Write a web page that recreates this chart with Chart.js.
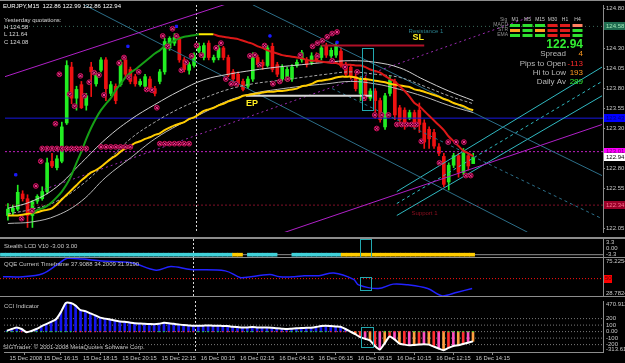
<!DOCTYPE html>
<html>
<head>
<meta charset="utf-8">
<title>EURJPY,M15</title>
<script src="https://cdn.jsdelivr.net/npm/chart.js@4.4.1/dist/chart.umd.min.js"></script>
<style>
  html, body { margin: 0; padding: 0; background: #000; }
  body { width: 625px; height: 363px; position: relative; overflow: hidden; }
  .pane { position: absolute; left: 0; width: 625px; }
  .sep { position: absolute; left: 0; width: 625px; background: #8c8c8c; }
</style>
</head>
<body>
<div class="pane" style="top:0;height:237px"><canvas id="main"></canvas></div>
<div class="sep" style="top:0;height:1px"></div>
<div class="sep" style="top:237px;height:2px"></div>
<div class="pane" style="top:239px;height:18px"><canvas id="lcd"></canvas></div>
<div class="sep" style="top:257px;height:1px"></div>
<div class="pane" style="top:258px;height:38px"><canvas id="qqe"></canvas></div>
<div class="sep" style="top:296px;height:1px"></div>
<div class="pane" style="top:297px;height:66px"><canvas id="cci"></canvas></div>
<script>
// ---- data (EURJPY M15, 15 Dec 14:30 .. 16 Dec 14:15) ----
const timeLabels = ['15 Dec 2008', '15 Dec 16:15', '15 Dec 18:15', '15 Dec 20:15', '15 Dec 22:15', '16 Dec 00:15', '16 Dec 02:15',
  '16 Dec 04:15', '16 Dec 06:15', '16 Dec 08:15', '16 Dec 10:15', '16 Dec 12:15', '16 Dec 14:15'];
const timeBars = [0, 7, 15, 23, 31, 39, 47, 55, 63, 71, 79, 87, 95];

const open = [122.21,122.26,122.29,122.48,122.42,122.21,122.39,122.42,122.51,122.89,
  122.81,122.89,123.37,124.07,123.68,123.85,123.59,124.07,123.86,124.03,
  124.16,123.74,123.83,123.85,124.16,124.04,123.95,123.85,123.83,123.92,
  123.80,123.89,124.01,124.31,124.37,124.43,124.16,124.03,124.09,124.27,
  124.19,124.37,124.16,124.19,124.31,124.19,124.01,123.98,123.89,123.83,
  123.92,124.19,124.13,124.09,124.33,124.10,123.92,123.92,123.92,124.09,
  124.16,124.16,124.13,124.22,124.19,124.33,124.21,124.22,124.27,124.09,
  124.07,123.95,123.74,123.92,123.68,123.77,123.65,123.32,123.74,123.89,
  123.56,123.53,123.43,123.50,123.53,123.37,123.29,123.25,123.07,122.95,
  122.63,122.84,122.96,122.75,122.96,122.86];
const high = [122.36,122.34,122.59,122.52,122.47,122.40,122.47,122.57,122.93,122.99,
  122.96,123.38,124.15,124.13,123.83,123.89,123.74,124.13,124.01,124.19,
  124.19,123.89,123.86,124.16,124.19,124.07,123.98,123.92,123.98,123.95,
  123.83,124.04,124.43,124.45,124.49,124.45,124.19,124.13,124.25,124.37,
  124.37,124.40,124.22,124.34,124.33,124.22,124.04,124.01,123.92,123.95,
  124.25,124.22,124.16,124.34,124.37,124.13,124.10,124.07,124.10,124.16,
  124.28,124.19,124.25,124.25,124.34,124.37,124.31,124.37,124.31,124.13,
  124.10,123.98,123.95,123.95,123.80,123.80,123.68,123.74,123.95,123.92,
  123.59,123.56,123.53,123.53,123.62,123.41,123.32,123.29,123.11,122.99,
  122.87,122.99,122.99,123.05,122.99,122.99];
const low = [122.15,122.21,122.27,122.39,122.06,122.06,122.36,122.40,122.48,122.81,
  122.78,122.87,123.35,123.61,123.53,123.55,123.53,123.70,123.83,124.01,
  123.65,123.71,123.61,123.83,123.95,123.86,123.83,123.83,123.80,123.77,
  123.71,123.86,123.98,124.28,124.34,124.13,124.01,123.98,124.07,124.25,
  124.16,124.16,124.13,124.16,124.16,123.95,123.89,123.83,123.77,123.80,
  123.89,124.07,124.04,124.07,124.01,123.95,123.89,123.89,123.89,124.07,
  124.13,124.07,124.10,124.13,124.16,124.19,124.19,124.19,124.07,123.95,
  123.92,123.77,123.65,123.65,123.65,123.43,123.38,123.29,123.71,123.41,
  123.37,123.29,123.41,123.29,123.25,123.05,123.05,123.05,122.96,122.57,
  122.53,122.81,122.69,122.72,122.78,122.86];
const close = [122.29,122.30,122.50,122.42,122.21,122.38,122.45,122.51,122.87,122.83,
  122.92,123.32,124.09,123.68,123.79,123.56,123.71,124.01,123.97,124.16,
  123.80,123.85,123.65,124.13,123.98,123.89,123.86,123.89,123.95,123.79,
  123.74,124.01,124.39,124.43,124.44,124.16,124.04,124.10,124.22,124.33,
  124.34,124.19,124.19,124.31,124.19,123.97,123.92,123.86,123.79,123.92,
  124.21,124.10,124.09,124.31,124.04,123.98,124.07,124.04,124.07,124.13,
  124.25,124.10,124.21,124.15,124.31,124.22,124.28,124.33,124.09,123.98,
  123.95,123.80,123.92,123.68,123.77,123.65,123.41,123.71,123.91,123.47,
  123.41,123.35,123.50,123.32,123.35,123.13,123.17,123.08,122.99,122.60,
  122.84,122.96,122.75,122.99,122.83,122.94];

// slope-coloured moving average (green up, yellow flat, red down)
const trendMA = [null,null,null,null,null,122.23,122.28,122.30,122.33,122.38,
  122.44,122.51,122.60,122.72,122.87,123.01,123.17,123.31,123.43,123.53,
  123.61,123.68,123.78,123.86,123.94,124.00,124.04,124.09,124.14,124.19,
  124.24,124.28,124.33,124.37,124.40,124.43,124.45,124.46,124.47,124.48,
  124.48,124.48,124.48,124.46,124.45,124.44,124.43,124.42,124.40,124.38,
  124.36,124.33,124.31,124.28,124.26,124.24,124.22,124.21,124.20,124.19,
  124.18,124.16,124.15,124.15,124.14,124.13,124.12,124.12,124.10,124.10,
  124.10,124.09,124.09,124.07,124.04,124.02,124.00,123.96,123.92,123.89,
  123.83,123.77,123.70,123.62,123.58,123.52,123.46,123.40,123.34,123.28,
  123.20,123.14,123.08,123.02,122.99,122.95];
const maYellow = [122.21,122.21,122.21,122.22,122.23,122.24,122.25,122.27,122.28,122.30,
  122.35,122.41,122.47,122.53,122.59,122.65,122.70,122.75,122.78,122.82,
  122.87,122.92,122.96,123.01,123.05,123.08,123.12,123.14,123.17,123.19,
  123.22,123.24,123.28,123.31,123.34,123.36,123.38,123.42,123.44,123.48,
  123.52,123.54,123.56,123.59,123.61,123.64,123.66,123.68,123.71,123.72,
  123.73,123.74,123.75,123.76,123.76,123.77,123.77,123.78,123.79,123.80,
  123.83,123.84,123.86,123.89,123.90,123.91,123.92,123.94,123.95,123.95,
  123.95,123.94,123.92,123.92,123.91,123.90,123.89,123.88,123.86,123.85,
  123.84,123.83,123.82,123.79,123.78,123.76,123.74,123.72,123.70,123.67,
  123.65,123.62,123.60,123.58,123.55,123.53];

const bandBars = [0,5,10,15,20,25,30,35,40,45,50,55,60,65,70,75,80,85,90,95];
const bandUp  = [122.30,122.39,122.57,122.87,123.17,123.41,123.60,123.77,123.91,123.98,124.03,124.07,124.10,124.13,124.15,124.13,124.06,123.91,123.77,123.65];
const bandMid = [122.23,122.29,122.39,122.59,122.87,123.17,123.38,123.55,123.68,123.79,123.86,123.90,123.94,123.98,124.01,123.98,123.94,123.83,123.71,123.61];
const bandLow = [122.11,122.13,122.21,122.39,122.69,122.93,123.17,123.35,123.50,123.65,123.74,123.79,123.83,123.86,123.89,123.86,123.79,123.70,123.59,123.50];

// pivot / signal markers
const markBars = [2.8,4.9,5.7,6.7,9.7,10.5,12.6,13.6,14.8,15.6,16.6,17.6,18.6,19.6,22.7,23.7,24.7,26.7,28.3,29.4,
  30.4,31.6,32.6,33.6,34.4,35.4,36.4,37.5,38.5,39.5,42.5,43.5,44.5,45.6,46.6,49.4,50.4,51.4,52.4,54.1,
  55.5,57.1,59.7,62.2,63.2,64.2,65.2,66.2,67.2,63.2,66.2,68.8,71.3,72.7,74.9,76.3,77.7,75.3,79.4,80.4,
  81.4,82.4,83.4,84.4,88.1,89.9,91.5,93.1,93.5,94.5,
  7,8,9,10,11,12,13,14,15,16,19,20,21,22,23,24,25,31,32,33,34,35,36,37];
const markPrices = [122.17,122.27,122.58,122.89,123.36,123.98,123.73,123.58,123.96,123.71,123.88,124.00,123.97,123.72,124.12,124.19,123.94,124.01,123.79,123.78,
  123.56,124.46,124.33,124.55,124.46,124.03,124.13,124.21,124.34,124.22,124.31,124.37,123.92,123.86,123.86,124.21,124.22,124.10,124.34,123.86,
  123.89,123.92,124.22,124.33,124.37,124.40,124.45,124.49,124.51,124.21,124.15,124.07,124.01,123.68,123.47,123.47,123.47,123.30,123.35,123.35,
  123.35,123.35,123.35,123.14,122.87,123.13,123.13,123.13,122.71,122.71,
  123.05,123.05,123.05,123.05,123.05,123.05,123.05,123.05,123.05,123.05,123.07,123.07,123.07,123.07,123.07,123.07,123.07,123.11,123.11,123.11,123.11,123.11,123.11,123.11];
const fractalBars = [1.6, 24.5, 34.4, 53.5, 67.2];
const fractalPrices = [122.72, 124.33, 124.58, 124.46, 124.38];

// hand-drawn objects: [bar, price] end points
const channelUpper = [[-0.6, 123.95], [50, 124.97]];
const channelLower = [[56.1, 121.99], [121.3, 123.35]];
const dashedTrend = [[7.5, 122.54], [106.7, 124.70]];
const fallLine1 = [[15.6, 124.85], [106.1, 122.00]];
const fallLine2 = [[50, 124.85], [121.3, 122.71]];
const fallLine3 = [[66.2, 123.80], [121.3, 122.17]];
const riseUpper = [[79.4, 122.51], [121.3, 124.07]];
const riseMid = [[79.4, 122.36], [121.3, 123.89]];
const riseLower = [[79.4, 122.21], [121.3, 123.71]];
const slLine = [[64, 124.34], [85, 124.34]];
const epLine = [[48.6, 123.71], [74.3, 123.71]];
const yHigh = 124.58, pivotLine = 123.43, openLine = 123.01, supportLine = 122.34;

const noteTexts = ['Resistance 1', 'SL', 'EP', 'Support 1'];
const noteBars = [81.8, 82.6, 48.6, 82.4];
const notePrices = [124.52, 124.44, 123.61, 122.24];

const priceTicks = [124.80, 124.30, 124.05, 123.80, 123.55, 123.30, 122.80, 122.55, 122.05];
const tagValues = [124.58, 123.43, 123.01, 122.94, 122.34];
const cursorBar = 38.4;
const boxBars = [72.2, 74.6];

// sub windows
const lcdState = [1,1,1,1,1,1,1,1,1,1, 1,1,1,1,1,1,1,1,1,1, 1,1,1,1,1,1,1,1,1,1, 1,1,1,1,1,1,1,1,1,1,
  1,1,1,1,1,1,1,-1,-1,0, 1,1,1,1,1,1,0,0,0,1, 1,1,1,1,1,1,1,1,1,-1,
  -1,-1,-1,-1,-1,-1,-1,-1,-1,-1, -1,-1,-1,-1,-1,-1,-1,-1,-1,-1, -1,-1,-1,-1,-1,-1];
const qqeBars = [0,4,8,11,13,16,20,26,31,34,38,45,48,49,54,56,59,61,64,67,71,72,76,79,82,86,89,92,95];
const qqeVals = [52.3,52.3,55.9,67.0,74.8,73.9,71.6,69.4,60.4,64.9,61.3,59.5,51.4,51.4,55.0,52.3,52.3,53.6,53.6,56.8,49.1,42.4,37.9,43.3,42.4,37.9,28.9,33.4,37.91];
const qqeLevel = 50;
const cci = [15,40,65,40,-10,10,40,80,115,150, 190,300,440,440,400,330,315,280,250,215,
  200,185,170,155,150,140,130,125,120,118, 115,120,135,130,120,110,100,95,90,90,
  92,95,90,90,88,85,75,70,65,65, 70,65,62,65,60,50,45,40,45,50,
  55,58,60,70,85,90,85,80,75,40, 0,-40,-85,-110,-135,-220,-275,-180,-75,-120,
  -185,-200,-210,-205,-200,-195,-200,-230,-260,-285, -250,-220,-210,-190,-170,-150];
const cciLevels = [200, 100, 0, -100, -200];

// ---- drawing ----
Chart.defaults.font.family = '"Liberation Sans", Arial, sans-serif';
Chart.defaults.font.size = 6;
Chart.defaults.color = '#c8c8c8';
Chart.defaults.animation = false;
Chart.defaults.maintainAspectRatio = false;
Chart.defaults.plugins.legend.display = false;
Chart.defaults.plugins.tooltip.enabled = false;
Chart.defaults.elements.point.radius = 0;
Chart.defaults.elements.line.borderWidth = 1;

const FONT = '"Liberation Sans", Arial, sans-serif';
const xMin = -0.6, xMax = 121.5;
const bars = close.map((_, i) => i);
const pts = (xs, ys) => xs.map((x, k) => ({ x, y: ys[k] }));
const seg = s => s.map(p => ({ x: p[0], y: p[1] }));
const hline = v => [{ x: xMin, y: v }, { x: xMax, y: v }];

function xAxis(show) {
  return {
    type: 'linear', min: xMin, max: xMax, offset: false, display: show,
    grid: { drawOnChartArea: false, color: '#8c8c8c', tickLength: 3 },
    border: { color: '#8c8c8c' },
    // first label is pinned to the left edge like the terminal does
    afterBuildTicks: s => { s.ticks = timeBars.map(v => ({ value: Math.max(v, xMin) })); },
    ticks: { autoSkip: false, maxRotation: 0, align: 'start', padding: 0, labelOffset: 2.5, color: '#c8c8c8',
      font: { size: 5.8 }, callback: (v, i) => timeLabels[i] },
    afterFit: s => { if (show) { s.height = 11; } s.paddingLeft = 0; s.paddingRight = 0; }
  };
}

function yAxis(min, max, ticks) {
  return {
    type: 'linear', position: 'right', min, max,
    grid: { drawOnChartArea: false, color: '#8c8c8c', tickLength: 2, display: !!ticks },
    border: { display: true, color: '#8c8c8c' },
    afterBuildTicks: s => { s.ticks = (ticks || []).map(v => ({ value: v })); },
    ticks: { display: !!ticks, autoSkip: false, padding: 1, color: '#c8c8c8', callback: v => v.toFixed(2) },
    afterFit: s => { s.width = 22; s.paddingTop = 0; s.paddingBottom = 0; }
  };
}

function text(ctx, s, x, y, color, font, align) {
  ctx.font = font;
  ctx.fillStyle = color;
  ctx.textAlign = align || 'left';
  ctx.textBaseline = 'middle';
  ctx.fillText(s, x, y);
}

function cursorLine(chart) {
  const { ctx, chartArea: a, scales: { x } } = chart;
  const px = Math.round(x.getPixelForValue(cursorBar)) + 0.5;
  ctx.save();
  ctx.strokeStyle = '#d8d8d8';
  ctx.setLineDash([2, 2]);
  ctx.beginPath(); ctx.moveTo(px, a.top); ctx.lineTo(px, a.bottom); ctx.stroke();
  ctx.restore();
}

function signalBox(chart, lo, hi) {
  const { ctx, scales: { x, y } } = chart;
  const x0 = Math.round(x.getPixelForValue(boxBars[0])), x1 = Math.round(x.getPixelForValue(boxBars[1]));
  const y0 = Math.round(y.getPixelForValue(hi)), y1 = Math.round(y.getPixelForValue(lo));
  ctx.save();
  ctx.strokeStyle = '#22a8b0';
  ctx.strokeRect(x0 + 0.5, y0 + 0.5, x1 - x0, y1 - y0);
  ctx.restore();
}

function sideLabels(chart, vals, names) {
  const { ctx, chartArea: a, scales: { y } } = chart;
  ctx.save();
  vals.forEach((v, k) => {
    const py = Math.min(Math.max(y.getPixelForValue(v), a.top + 3), a.bottom - 3);
    text(ctx, names[k], a.right + 3, py, '#c8c8c8', '6px ' + FONT);
  });
  ctx.restore();
}

function tag(ctx, a, py, s, bg, fg) {
  ctx.fillStyle = bg;
  ctx.fillRect(a.right + 1, Math.round(py) - 4, 21, 8);
  text(ctx, s, a.right + 3, py, fg, '6px ' + FONT);
}

const trendColor = x => x < 39 ? '#16a016' : (x < 42 ? '#ffee00' : '#dd1818');
const candleCol = bars.map(i => close[i] >= open[i] ? '#22ee22' : '#ee1111');

const mainDecor = {
  id: 'mainDecor',
  beforeDatasetsDraw(chart) { cursorLine(chart); },
  afterDatasetsDraw(chart) {
    const { ctx, scales: { x, y } } = chart;
    signalBox(chart, 123.53, 124.31);
    ctx.save();
    const noteStyle = [['#2a7f8c', '6px ' + FONT], ['#ffee22', 'bold 9px ' + FONT], ['#ffee22', 'bold 9px ' + FONT], ['#8a1020', '6px ' + FONT]];
    noteTexts.forEach((s, k) => text(ctx, s, x.getPixelForValue(noteBars[k]), y.getPixelForValue(notePrices[k]), noteStyle[k][0], noteStyle[k][1]));

    text(ctx, 'EURJPY,M15  122.86 122.99 122.86 122.94', 3, 6, '#ffffff', '6px ' + FONT);
    text(ctx, 'Yesterday quotations:', 4, 20, '#d8d8d8', '6px ' + FONT);
    text(ctx, 'H 124.58', 4, 27, '#d8d8d8', '6px ' + FONT);
    text(ctx, 'L 121.64', 4, 34, '#d8d8d8', '6px ' + FONT);
    text(ctx, 'C 124.08', 4, 42, '#d8d8d8', '6px ' + FONT);

    // multi timeframe box
    const tfs = ['M1', 'M5', 'M15', 'M30', 'H1', 'H4'];
    const rows = ['MACD', 'STR', 'EMA'];
    const G = '#2fe02f', R = '#e01c1c', O = '#ffa020', S = '#ff8060';
    const cells = [[G, G, G, R, R, S], [O, G, O, R, R, G], [G, G, G, R, R, G]];
    text(ctx, 'Sig', 500, 20, '#909090', '5px ' + FONT);
    tfs.forEach((t, c) => text(ctx, t, 515 + c * 12.5, 20, '#c8c8c8', '5px ' + FONT, 'center'));
    rows.forEach((r, k) => {
      text(ctx, r, 508, 25 + k * 5, '#909090', '5px ' + FONT, 'right');
      cells[k].forEach((col, c) => { ctx.fillStyle = col; ctx.fillRect(510 + c * 12.5, 24 + k * 5, 10, 3); });
    });

    text(ctx, '122.94', 583, 45, '#33ee33', 'bold 12px ' + FONT, 'right');
    const info = [['Spread', '4', '#ff9a20'], ['Pips to Open', '-113', '#ff2a2a'], ['Hi to Low', '193', '#ff9a20'], ['Daily Av', '289', '#33ee33']];
    info.forEach((r, k) => {
      text(ctx, r[0], 566, 54 + k * 9.3, '#b8b8b8', '8px ' + FONT, 'right');
      text(ctx, r[1], 583, 54 + k * 9.3, r[2], '8px ' + FONT, 'right');
    });
    ctx.restore();
  },
  afterDraw(chart) {
    const { ctx, chartArea: a, scales: { y } } = chart;
    const st = [['#1f6b50', '#9fe8b8'], ['#0000ff', '#00007a'], ['#ff00ff', '#700070'], ['#ffffff', '#000000'], ['#9a0028', '#ff7090']];
    ctx.save();
    tagValues.forEach((v, k) => tag(ctx, a, y.getPixelForValue(v), v.toFixed(2), st[k][0], st[k][1]));
    ctx.restore();
  }
};

const trendDs = (d, color, dash, order) => ({ data: seg(d), borderColor: color, borderDash: dash || [], order: order || 6 });

new Chart(document.getElementById('main'), {
  type: 'line',
  data: {
    datasets: [
      { data: pts(markBars, markPrices), showLine: false, pointRadius: 1.8, pointStyle: 'crossRot', pointBorderColor: '#ff3c9c', pointBorderWidth: 1, order: 0 },
      { data: pts(markBars, markPrices), showLine: false, pointRadius: 2.4, pointStyle: 'circle', pointBorderColor: '#c8105a', pointBackgroundColor: '#48001e', pointBorderWidth: 1, order: 1 },
      { data: pts(fractalBars, fractalPrices), showLine: false, pointRadius: 1.6, pointStyle: 'rect', pointBackgroundColor: '#1c1cff', pointBorderColor: '#1c1cff', order: 1 },
      { data: pts(bars, trendMA), borderWidth: 2, tension: 0.3, borderColor: '#16a016', segment: { borderColor: c => trendColor(c.p0.parsed.x) }, order: 2 },
      { data: pts(bars, maYellow), borderColor: '#ffcc00', borderWidth: 2, tension: 0.3, order: 3 },
      { data: pts(bandBars, bandUp), borderColor: '#d0d0d0', tension: 0.4, order: 4 },
      { data: pts(bandBars, bandMid), borderColor: '#a8a8a8', borderDash: [3, 2], tension: 0.4, order: 4 },
      { data: pts(bandBars, bandLow), borderColor: '#b8b8b8', tension: 0.4, order: 4 },
      { data: seg(epLine), borderColor: '#d8d8d8', borderWidth: 2, order: 4 },
      { data: seg(slLine), borderColor: '#b01028', borderWidth: 2, order: 4 },
      trendDs(channelUpper, '#b020c8'),
      trendDs(channelLower, '#b020c8'),
      trendDs(dashedTrend, '#9a2ab0', [2, 3]),
      trendDs(fallLine1, '#2c6e88'),
      trendDs(fallLine2, '#2c6e88'),
      trendDs(fallLine3, '#2c6e88', [3, 3]),
      trendDs(riseUpper, '#30b8c0'),
      trendDs(riseMid, '#30b8c0', [3, 3]),
      trendDs(riseLower, '#30b8c0'),
      trendDs([[xMin, yHigh], [xMax, yHigh]], '#3a6a5a', [1, 3]),
      trendDs([[xMin, pivotLine], [xMax, pivotLine]], '#1818e0'),
      trendDs([[xMin, openLine], [xMax, openLine]], '#c020c0', [2, 2]),
      trendDs([[xMin, supportLine], [xMax, supportLine]], '#801028', [2, 2]),
      { type: 'bar', data: bars.map(i => ({ x: i, y: [open[i], close[i]] })), backgroundColor: candleCol, barThickness: 3, minBarLength: 1, grouped: false, order: 8 },
      { type: 'bar', data: bars.map(i => ({ x: i, y: [low[i], high[i]] })), backgroundColor: candleCol, barThickness: 1, grouped: false, order: 9 }
    ]
  },
  options: {
    layout: { padding: 0 },
    scales: { x: xAxis(false), y: yAxis(122.003, 124.848, priceTicks) }
  },
  plugins: [mainDecor]
});

// Stealth LCD
new Chart(document.getElementById('lcd'), {
  type: 'line',
  data: {
    datasets: [
      { type: 'bar', data: bars.filter(i => lcdState[i] !== 0).map(i => ({ x: i, y: [-3.0, -1.9] })),
        backgroundColor: bars.filter(i => lcdState[i] !== 0).map(i => lcdState[i] > 0 ? '#40d0d8' : '#ffcc00'),
        barThickness: 5, grouped: false, order: 1 },
      { data: hline(-2.45), borderColor: '#8c8c8c', order: 2 }
    ]
  },
  options: { scales: { x: xAxis(false), y: yAxis(-3.3, 3.3) } },
  plugins: [{
    id: 'lcdDecor',
    beforeDatasetsDraw: cursorLine,
    afterDraw(chart) {
      signalBox(chart, -3.2, 3.2);
      text(chart.ctx, 'Stealth LCD V10 -3.00 3.00', 4, 7, '#c8c8c8', '6px ' + FONT);
      sideLabels(chart, [3.3, 0, -3.3], ['3.3', '0.00', '-3.3']);
    }
  }]
});

// QQE
new Chart(document.getElementById('qqe'), {
  type: 'line',
  data: {
    datasets: [
      { data: pts(qqeBars, qqeVals), borderColor: '#2222ff', borderWidth: 1.5, tension: 0.35, order: 1 },
      { data: hline(qqeLevel), borderColor: '#ff1010', borderDash: [1, 2], order: 2 }
    ]
  },
  options: { scales: { x: xAxis(false), y: yAxis(28.7824, 75.2254) } },
  plugins: [{
    id: 'qqeDecor',
    beforeDatasetsDraw: cursorLine,
    afterDraw(chart) {
      const { ctx, chartArea: a, scales: { y } } = chart;
      signalBox(chart, 36, 52);
      text(ctx, 'QQE Current Timeframe 37.9088 34.2009 31.9190', 4, 6, '#c8c8c8', '6px ' + FONT);
      sideLabels(chart, [75.2254, 28.7824], ['75.2254', '28.7824']);
      ctx.fillStyle = '#ff0000';
      ctx.fillRect(a.right + 1, Math.round(y.getPixelForValue(qqeLevel)) - 4, 8, 8);
      text(ctx, '50', a.right + 2, y.getPixelForValue(qqeLevel), '#600000', '6px ' + FONT);
    }
  }]
});

// CCI
const negCols = ['#ff3030', '#ff50c0', '#ffa040'];
new Chart(document.getElementById('cci'), {
  type: 'line',
  data: {
    datasets: [
      { data: pts(bars, cci), borderColor: '#ffffff', borderWidth: 2, tension: 0.2, order: 0 },
      { data: pts(bars, bars.map(() => 0)), showLine: false, pointRadius: 1, pointStyle: 'rect',
        pointBackgroundColor: bars.map(i => i > 0 && cci[i] < cci[i - 1] ? '#ff3030' : '#30e030'), pointBorderWidth: 0, order: 1 },
      { type: 'bar', data: bars.map(i => ({ x: i, y: cci[i] })),
        backgroundColor: bars.map(i => cci[i] >= 0 ? '#1515ee' : negCols[i % 3]), barThickness: 2, grouped: false, order: 2 },
      ...cciLevels.map(v => ({ data: hline(v), borderColor: '#7a7a7a', borderDash: [1, 2], order: 3 }))
    ]
  },
  options: { scales: { x: xAxis(true), y: yAxis(-313.619, 470.912) } },
  plugins: [{
    id: 'cciDecor',
    beforeDatasetsDraw: cursorLine,
    afterDraw(chart) {
      const { ctx } = chart;
      signalBox(chart, -235, 65);
      text(ctx, 'CCI Indicator', 4, 9, '#c8c8c8', '6px ' + FONT);
      text(ctx, 'SIGTrader. \u00a9 2001-2008 MetaQuotes Software Corp.', 3, 50, '#c8c8c8', '6px ' + FONT);
      sideLabels(chart, [470.912, 200, 100, 0, -100, -200, -313.619], ['470.912', '200', '100', '0.00', '-100', '-200', '-313.619']);
    }
  }]
});
</script>
</body>
</html>
